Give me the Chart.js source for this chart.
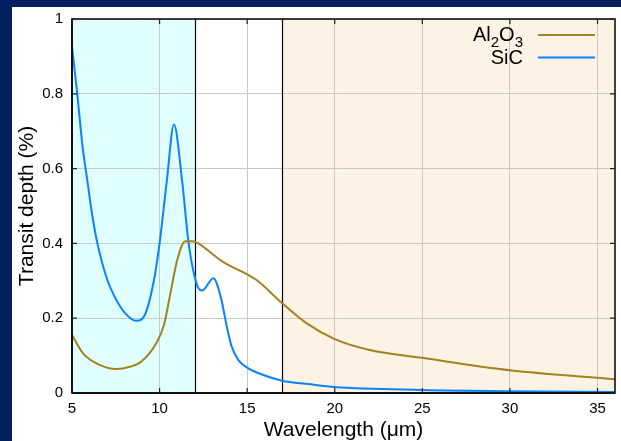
<!DOCTYPE html>
<html>
<head>
<meta charset="utf-8">
<script src="https://cdn.jsdelivr.net/npm/chart.js@4/dist/chart.umd.min.js"></script>
<style>
  html, body { margin: 0; padding: 0; background: #01205e; }
  canvas { display: block; }
</style>
</head>
<body>
<canvas id="chart" width="621" height="441"></canvas>
<script>
// values (wavelength in µm, transit depth in %)
const sicX = [5.0, 5.3, 5.6, 5.87, 6.14, 6.45, 7.02, 7.53, 8.04, 8.67, 9.2, 9.68, 10.0, 10.42, 10.82, 11.28, 11.66, 12.15, 12.44, 13.07, 13.5, 13.85, 14.12, 14.5, 15.0, 15.92, 17.0, 18.5, 20, 25, 30, 36];
const sicY = [0.926, 0.80, 0.66, 0.57, 0.48, 0.40, 0.302, 0.249, 0.213, 0.193, 0.213, 0.302, 0.40, 0.57, 0.718, 0.57, 0.40, 0.287, 0.274, 0.307, 0.255, 0.175, 0.124, 0.088, 0.068, 0.048, 0.033, 0.024, 0.016, 0.008, 0.005, 0.003];

const aloX = [5.0, 5.63, 6.58, 7.53, 8.3, 8.96, 9.81, 10.25, 10.6, 11.01, 11.47, 11.9, 12.2, 13.64, 15.0, 15.54, 17.0, 18.4, 20, 22, 25, 30, 36];
const aloY = [0.155, 0.106, 0.075, 0.064, 0.070, 0.084, 0.133, 0.182, 0.262, 0.356, 0.406, 0.406, 0.400, 0.350, 0.317, 0.302, 0.240, 0.186, 0.144, 0.115, 0.094, 0.061, 0.037];

const xTicks = [5, 10, 15, 20, 25, 30, 35];
const yTicks = [0, 0.2, 0.4, 0.6, 0.8, 1];

// shaded wavelength bands
const bands = [
    { from: 5, to: 12, color: "#e0ffff" },
    { from: 17, to: 36, color: "#fdf3e5" },
];
const bandEdges = [12, 17];

const blue = "#0a82ff";
const olive = "#a3821f";
const font = "'Liberation Sans', Arial, Helvetica, sans-serif";

const pts = (xs, ys) => xs.map((x, i) => ({ x: x, y: ys[i] }));

const decor = {
    id: "decor",
    beforeDraw(chart) {
        const ctx = chart.ctx, a = chart.chartArea, sx = chart.scales.x;
        ctx.save();
        ctx.fillStyle = "#01205e";
        ctx.fillRect(0, 0, chart.width, chart.height);
        ctx.fillStyle = "#ffffff";
        ctx.fillRect(12, 7, chart.width - 12, chart.height - 7);
        bands.forEach(b => {
            const x0 = sx.getPixelForValue(b.from), x1 = sx.getPixelForValue(b.to);
            ctx.fillStyle = b.color;
            ctx.fillRect(x0, a.top, x1 - x0, a.bottom - a.top);
        });
        ctx.restore();
    },
    beforeDatasetsDraw(chart) {
        const ctx = chart.ctx, a = chart.chartArea, sx = chart.scales.x;
        ctx.save();
        ctx.strokeStyle = "#000";
        ctx.lineWidth = 1.2;
        bandEdges.forEach(v => {
            const x = Math.round(sx.getPixelForValue(v)) + 0.5;
            ctx.beginPath();
            ctx.moveTo(x, a.top);
            ctx.lineTo(x, a.bottom);
            ctx.stroke();
        });
        ctx.restore();
    },
    afterDatasetsDraw(chart) {
        const ctx = chart.ctx, a = chart.chartArea, sx = chart.scales.x, sy = chart.scales.y;
        ctx.save();
        // frame
        ctx.strokeStyle = "#111";
        ctx.lineWidth = 1.6;
        ctx.strokeRect(a.left, a.top, a.right - a.left, a.bottom - a.top);
        ctx.lineWidth = 2;
        ctx.beginPath();
        ctx.moveTo(a.left, a.bottom);
        ctx.lineTo(a.right, a.bottom);
        ctx.moveTo(a.left, a.top);
        ctx.lineTo(a.left, a.bottom);
        ctx.stroke();
        // inward tick marks
        ctx.lineWidth = 1.2;
        ctx.strokeStyle = "#222";
        ctx.beginPath();
        xTicks.forEach(v => {
            const x = sx.getPixelForValue(v);
            ctx.moveTo(x, a.bottom); ctx.lineTo(x, a.bottom - 5);
            ctx.moveTo(x, a.top); ctx.lineTo(x, a.top + 5);
        });
        yTicks.forEach(v => {
            const y = sy.getPixelForValue(v);
            ctx.moveTo(a.left, y); ctx.lineTo(a.left + 5, y);
            ctx.moveTo(a.right, y); ctx.lineTo(a.right - 5, y);
        });
        ctx.stroke();

        // axis titles
        ctx.fillStyle = "#000";
        ctx.font = "21px " + font;
        ctx.textAlign = "center";
        ctx.textBaseline = "alphabetic";
        ctx.fillText("Wavelength (\u03bcm)", (a.left + a.right) / 2, 436);
        ctx.save();
        ctx.translate(33, (a.top + a.bottom) / 2);
        ctx.rotate(-Math.PI / 2);
        ctx.fillText("Transit depth (%)", 0, 0);
        ctx.restore();

        // legend with subscripts
        const textRight = 523, lx0 = 538, lx1 = 595;
        const big = "20px " + font, small = "15px " + font;
        const parts = [["Al", big, 0], ["2", small, 6], ["O", big, 0], ["3", small, 6]];
        let w = 0;
        parts.forEach(p => { ctx.font = p[1]; w += ctx.measureText(p[0]).width; });
        let x = textRight - w;
        ctx.textAlign = "left";
        parts.forEach(p => {
            ctx.font = p[1];
            ctx.fillText(p[0], x, 41 + p[2]);
            x += ctx.measureText(p[0]).width;
        });
        ctx.font = big;
        ctx.textAlign = "right";
        ctx.fillText("SiC", textRight, 64);

        ctx.lineWidth = 2;
        ctx.strokeStyle = olive;
        ctx.beginPath(); ctx.moveTo(lx0, 35); ctx.lineTo(lx1, 35); ctx.stroke();
        ctx.strokeStyle = blue;
        ctx.beginPath(); ctx.moveTo(lx0, 57.5); ctx.lineTo(lx1, 57.5); ctx.stroke();
        ctx.restore();
    }
};

new Chart(document.getElementById("chart"), {
    type: "line",
    data: {
        datasets: [
            {
                label: "Al2O3",
                data: pts(aloX, aloY),
                borderColor: olive,
                borderWidth: 2,
                pointRadius: 0,
                cubicInterpolationMode: "monotone",
                fill: false,
            },
            {
                label: "SiC",
                data: pts(sicX, sicY),
                borderColor: blue,
                borderWidth: 2,
                pointRadius: 0,
                cubicInterpolationMode: "monotone",
                fill: false,
            },
        ],
    },
    options: {
        responsive: false,
        animation: false,
        events: [],
        layout: { padding: { left: 12, top: 19, right: 6, bottom: 0 } },
        plugins: {
            legend: { display: false },
            tooltip: { enabled: false },
        },
        scales: {
            x: {
                type: "linear",
                min: 5,
                max: 36,
                afterBuildTicks: s => { s.ticks = xTicks.map(v => ({ value: v })); },
                afterFit: s => { s.height = 48; },
                grid: { color: "#c8c8c8", lineWidth: 1, drawTicks: false },
                border: { display: false },
                ticks: { color: "#000", padding: 7, font: { family: font, size: 15 }, maxRotation: 0 },
            },
            y: {
                type: "linear",
                min: 0,
                max: 1,
                afterBuildTicks: s => { s.ticks = yTicks.map(v => ({ value: v })); },
                afterFit: s => { s.width = 60; },
                grid: { color: "#c8c8c8", lineWidth: 1, drawTicks: false },
                border: { display: false },
                ticks: {
                    color: "#000",
                    padding: 9,
                    font: { family: font, size: 15 },
                    callback: v => String(Math.round(v * 10) / 10),
                },
            },
        },
    },
    plugins: [decor],
});
</script>
</body>
</html>
